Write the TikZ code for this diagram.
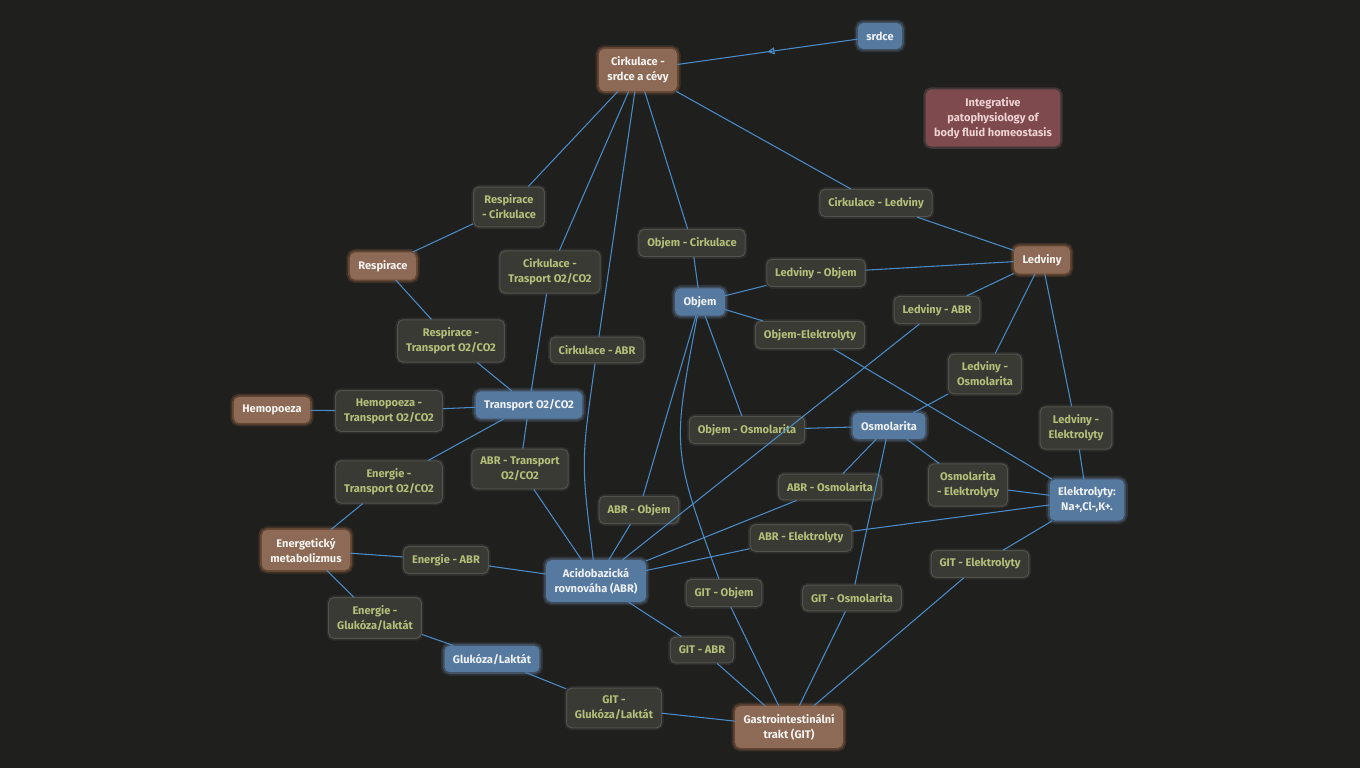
\documentclass[tikz,border=0pt]{standalone}
\usepackage{fontspec}
\setmainfont{Fira Sans}
\usetikzlibrary{arrows.meta,decorations.markings}
\definecolor{bgcol}{HTML}{1F1F1E}
\definecolor{edgecol}{HTML}{4A8CC8}
\definecolor{brownfill}{HTML}{8C6A55}
\definecolor{brownglow}{HTML}{C88250}
\definecolor{bluefill}{HTML}{56799F}
\definecolor{blueglow}{HTML}{7FA6D0}
\definecolor{darkfill}{HTML}{3A3A34}
\definecolor{darktext}{HTML}{B4C07A}
\definecolor{redfill}{HTML}{7E4A4D}
\definecolor{redtext}{HTML}{EFD3D3}
\tikzset{
  box/.style={rounded corners=3pt, inner xsep=4.8pt, inner ysep=4.5pt,
    minimum height=14.7pt, align=center,
    font=\fontsize{6.3}{8.5}\selectfont\bfseries},
  brownbox/.style={box, fill=brownfill, text=white!92!brownfill,
    preaction={draw=brownglow, line width=4pt, draw opacity=0.18},
    preaction={draw=brownglow, line width=2pt, draw opacity=0.28}},
  bluebox/.style={box, fill=bluefill, text=white!90!bluefill,
    preaction={draw=blueglow, line width=4pt, draw opacity=0.15},
    preaction={draw=blueglow, line width=2pt, draw opacity=0.25}},
  linkbox/.style={box, fill=darkfill, text=darktext, draw=white!12!darkfill, line width=0.6pt,
    preaction={draw=gray, line width=2.5pt, draw opacity=0.15}},
  titlebox/.style={box, fill=redfill, text=redtext,
    preaction={draw=redfill!70!white, line width=2.5pt, draw opacity=0.25}},
  conn/.style={draw=edgecol, line width=0.6pt},
}
\begin{document}
\begin{tikzpicture}[x=0.02cm,y=-0.02cm]
  \fill[bgcol] (0,0) rectangle (1360,768);
  \useasboundingbox (0,0) rectangle (1360,768);

  % main topics
  \node[bluebox] (srdce) at (880,36) {srdce};
  \node[brownbox] (cirk) at (638,70) {Cirkulace -\\srdce a cévy};
  \node[titlebox] (title) at (993,118) {Integrative\\patophysiology of\\body fluid homeostasis};
  \node[brownbox] (ledviny) at (1042,260) {Ledviny};
  \node[brownbox] (respirace) at (383,266) {Respirace};
  \node[bluebox] (objem) at (700,302) {Objem};
  \node[brownbox] (hemopoeza) at (272,410) {Hemopoeza};
  \node[bluebox] (transport) at (529,405) {Transport O2/CO2};
  \node[bluebox] (osmolarita) at (889,426) {Osmolarita};
  \node[bluebox] (elektrolyty) at (1087,500) {Elektrolyty:\\Na+,Cl-,K+.};
  \node[brownbox] (energie) at (306,550) {Energetický\\metabolizmus};
  \node[bluebox] (abr) at (596,581) {Acidobazická\\rovnováha (ABR)};
  \node[bluebox] (glukoza) at (492,659) {Glukóza/Laktát};
  \node[brownbox] (git) at (789,727) {Gastrointestinální\\trakt (GIT)};

  % links between topics
  \node[linkbox] (respcirk) at (509,207) {Respirace\\- Cirkulace};
  \node[linkbox] (cirkled) at (876,203) {Cirkulace - Ledviny};
  \node[linkbox] (objcirk) at (692,243) {Objem - Cirkulace};
  \node[linkbox] (cirktrans) at (550,272) {Cirkulace -\\Trasport O2/CO2};
  \node[linkbox] (ledobj) at (816,273) {Ledviny - Objem};
  \node[linkbox] (ledabr) at (937,310) {Ledviny - ABR};
  \node[linkbox] (resptrans) at (451,341) {Respirace -\\Transport O2/CO2};
  \node[linkbox] (objelek) at (810,335) {Objem-Elektrolyty};
  \node[linkbox] (cirkabr) at (597,350) {Cirkulace - ABR};
  \node[linkbox] (ledosm) at (985,374) {Ledviny -\\Osmolarita};
  \node[linkbox] (hemtrans) at (389,411) {Hemopoeza -\\Transport O2/CO2};
  \node[linkbox] (ledelek) at (1076,428) {Ledviny -\\Elektrolyty};
  \node[linkbox] (objosm) at (747,430) {Objem - Osmolarita};
  \node[linkbox] (entrans) at (389,482) {Energie -\\Transport O2/CO2};
  \node[linkbox] (abrtrans) at (520,469) {ABR - Transport\\O2/CO2};
  \node[linkbox] (osmelek) at (968,485) {Osmolarita\\- Elektrolyty};
  \node[linkbox] (abrosm) at (830,487) {ABR - Osmolarita};
  \node[linkbox] (abrobj) at (639,510) {ABR - Objem};
  \node[linkbox] (abrelek) at (801,538) {ABR - Elektrolyty};
  \node[linkbox] (enabr) at (446,560) {Energie - ABR};
  \node[linkbox] (gitelek) at (980,564) {GIT - Elektrolyty};
  \node[linkbox] (gitobj) at (724,593) {GIT - Objem};
  \node[linkbox] (gitosm) at (852,598) {GIT - Osmolarita};
  \node[linkbox] (englu) at (375,618) {Energie -\\Glukóza/laktát};
  \node[linkbox] (gitabr) at (702,650) {GIT - ABR};
  \node[linkbox] (gitglu) at (614,708) {GIT -\\Glukóza/Laktát};

  % connectors
  \draw[conn, postaction={decorate}, decoration={markings,
    mark=at position 0.5 with {\arrow{Triangle[open,length=4pt,width=4pt]}}}] (srdce) -- (cirk);
  \draw[conn] (cirk) -- (respcirk) -- (respirace) -- (resptrans) -- (transport);
  \draw[conn] (cirk) -- (cirktrans) -- (transport);
  \draw[conn] (cirk) -- (cirkabr);
  \draw[conn] (cirkabr) .. controls (581,462) .. (abr);
  \draw[conn] (cirk) -- (objcirk) -- (objem);
  \draw[conn] (cirk) -- (cirkled) -- (ledviny);
  \draw[conn] (ledviny) -- (ledobj) -- (objem);
  \draw[conn] (ledviny) -- (ledabr) -- (abr);
  \draw[conn] (ledviny) -- (ledosm) -- (osmolarita);
  \draw[conn] (ledviny) -- (ledelek) -- (elektrolyty);
  \draw[conn] (objem) -- (objelek) -- (elektrolyty);
  \draw[conn] (objem) -- (objosm) -- (osmolarita);
  \draw[conn] (objem) -- (abrobj) -- (abr);
  \draw[conn] (objem) .. controls (672,449) .. (gitobj);
  \draw[conn] (gitobj) -- (git);
  \draw[conn] (osmolarita) -- (osmelek) -- (elektrolyty);
  \draw[conn] (osmolarita) -- (abrosm) -- (abr);
  \draw[conn] (osmolarita) -- (gitosm) -- (git);
  \draw[conn] (elektrolyty) -- (abrelek) -- (abr);
  \draw[conn] (elektrolyty) -- (gitelek) -- (git);
  \draw[conn] (hemopoeza) -- (hemtrans) -- (transport);
  \draw[conn] (transport) -- (entrans) -- (energie);
  \draw[conn] (transport) -- (abrtrans) -- (abr);
  \draw[conn] (energie) -- (enabr) -- (abr);
  \draw[conn] (energie) -- (englu) -- (glukoza) -- (gitglu) -- (git);
  \draw[conn] (abr) -- (gitabr) -- (git);
\end{tikzpicture}
\end{document}
